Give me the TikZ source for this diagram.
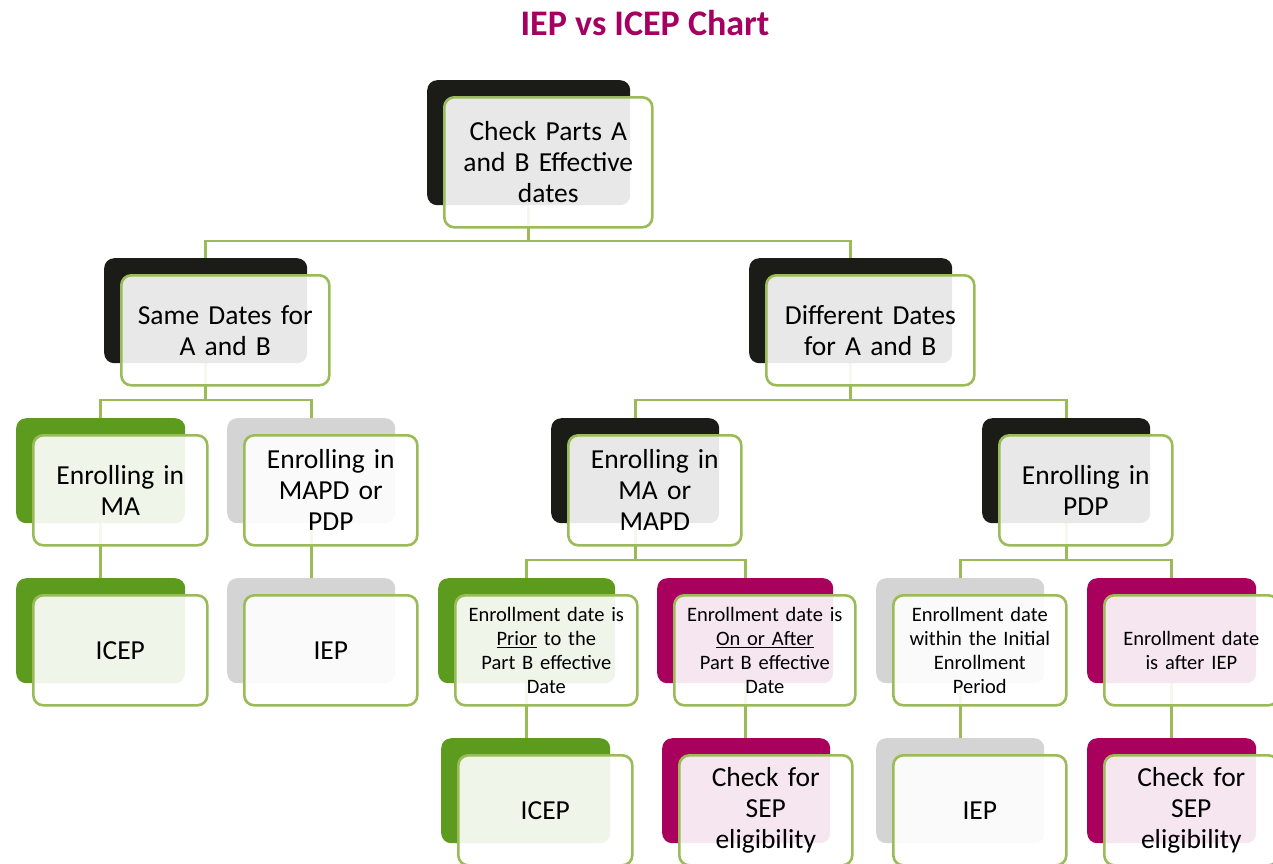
\documentclass[tikz,border=0pt]{standalone}
\usepackage{fontspec}
\setmainfont{Carlito}
\usetikzlibrary{calc}
\pgfdeclarelayer{background}
\pgfsetlayers{background,main}
\definecolor{blk}{HTML}{1B1B17}
\definecolor{grn}{HTML}{5C9B1E}
\definecolor{gry}{HTML}{D4D4D4}
\definecolor{mag}{HTML}{A8005C}
\definecolor{olive}{HTML}{9BBB59}
\definecolor{ttl}{HTML}{A50060}
\tikzset{
  backbox/.style={rectangle, rounded corners=10pt, inner sep=0pt, anchor=north west},
  frontbox/.style={rectangle, rounded corners=10pt, inner sep=0pt, anchor=north west,
     draw=olive, line width=2.6pt, fill=white, fill opacity=0.9, text opacity=1,
     align=center, font=\fontsize{27.5}{31}\selectfont},
  smalltext/.style={font=\fontsize{20.5}{24}\selectfont},
  conn/.style={draw=olive, line width=2.6pt},
}
% #1 name, #2 colour, #3 left, #4 top, #5 width, #6 height, #7 extra style, #8 text
\newcommand\duobox[8]{%
  \node[backbox, fill=#2, minimum width=#5pt, minimum height=#6pt] (#1B) at (#3,#4) {};
  \node[frontbox, minimum width=#5pt+5pt, minimum height=#6pt+5pt, text width=#5pt-2pt, #7] (#1F) at ({#3+16},{#4+16}) {#8};
}
\begin{document}
\begin{tikzpicture}[x=1pt,y=-1pt]
\useasboundingbox (0,0) rectangle (1273,863);
\clip (0,0) rectangle (1273,863);
\node[font=\bfseries\fontsize{36}{40}\selectfont, text=ttl] (title) at (645,23) {IEP vs ICEP Chart};

\duobox{top}{blk}{427}{80}{203}{125}{}{Check Parts A\\and B Effective\\dates}
\duobox{same}{blk}{104}{258}{203}{105}{}{Same Dates for\\A and B}
\duobox{diff}{blk}{749}{258}{203}{105}{}{Different Dates\\for A and B}
\duobox{ma}{grn}{16}{418}{169}{105}{}{Enrolling in\\MA}
\duobox{mapd}{gry}{227}{418}{168}{105}{}{Enrolling in\\MAPD or\\PDP}
\duobox{mamapd}{blk}{551}{418}{168}{105}{}{Enrolling in\\MA or\\MAPD}
\duobox{pdp}{blk}{982}{418}{168}{105}{}{Enrolling in\\PDP}
\duobox{icepA}{grn}{16}{578}{169}{105}{}{ICEP}
\duobox{iepA}{gry}{227}{578}{168}{105}{}{IEP}
\duobox{prior}{grn}{438}{578}{177}{105}{smalltext}{Enrollment date is\\\underline{Prior} to the\\Part B effective\\Date}
\duobox{onafter}{mag}{657}{578}{176}{105}{smalltext}{Enrollment date is\\\underline{On or After}\\Part B effective\\Date}
\duobox{within}{gry}{876}{578}{168}{105}{smalltext}{Enrollment date\\within the Initial\\Enrollment\\Period}
\duobox{after}{mag}{1087}{578}{169}{105}{smalltext}{Enrollment date\\is after IEP}
\duobox{icepB}{grn}{441}{738}{169}{105}{}{ICEP}
\duobox{sepA}{mag}{662}{738}{168}{105}{}{Check for\\SEP\\eligibility}
\duobox{iepB}{gry}{876}{738}{168}{105}{}{IEP}
\duobox{sepB}{mag}{1087}{738}{169}{105}{}{Check for\\SEP\\eligibility}

\coordinate (busA) at (0,241);
\coordinate (busB) at (0,400);
\coordinate (busC) at (0,560);

\begin{pgfonlayer}{background}
\draw[conn] (topB.south) -- (topB.south |- busA) -| (sameB.north);
\draw[conn] (topB.south |- busA) -| (diffB.north);
\draw[conn] (sameB.south) -- (sameB.south |- busB) -| (maB.north);
\draw[conn] (sameB.south |- busB) -| (mapdB.north);
\draw[conn] (diffB.south) -- (diffB.south |- busB) -| (mamapdB.north);
\draw[conn] (diffB.south |- busB) -| (pdpB.north);
\draw[conn] (maB.south) -- (maB.south |- icepAB.north);
\draw[conn] (mapdB.south) -- (mapdB.south |- iepAB.north);
\draw[conn] (mamapdB.south) -- (mamapdB.south |- busC) -| (priorB.north);
\draw[conn] (mamapdB.south |- busC) -| (onafterB.north);
\draw[conn] (pdpB.south) -- (pdpB.south |- busC) -| (withinB.north);
\draw[conn] (pdpB.south |- busC) -| (afterB.north);
\draw[conn] (priorB.south) -- (priorB.south |- icepBB.north);
\draw[conn] (onafterB.south) -- (onafterB.south |- sepAB.north);
\draw[conn] (withinB.south) -- (withinB.south |- iepBB.north);
\draw[conn] (afterB.south) -- (afterB.south |- sepBB.north);
\end{pgfonlayer}
\end{tikzpicture}
\end{document}
